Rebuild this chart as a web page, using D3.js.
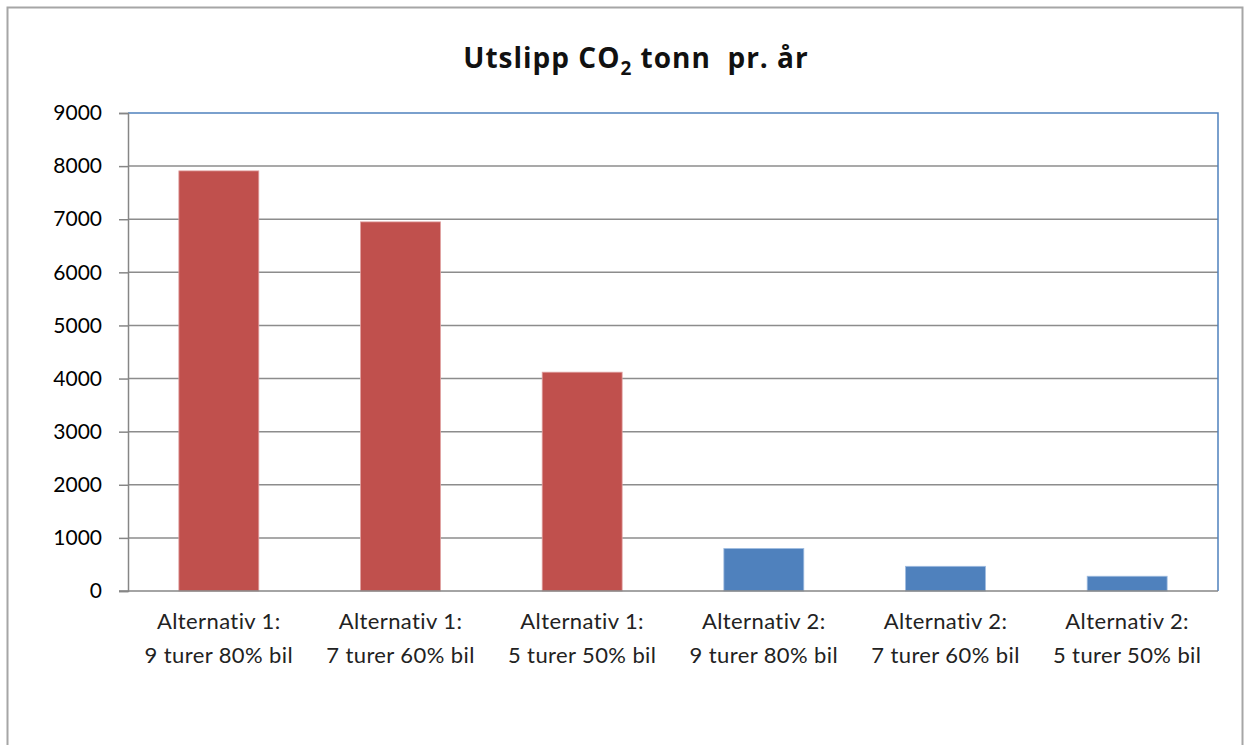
<!DOCTYPE html>
<html><head><meta charset="utf-8">
<script src="https://cdn.jsdelivr.net/npm/d3@7"></script>
<style>body{margin:0;background:#fff}svg{display:block}</style>
</head><body>
<svg id="c" width="1246" height="745"></svg>
<script>
const categoriesLine1 = ["Alternativ 1:", "Alternativ 1:", "Alternativ 1:", "Alternativ 2:", "Alternativ 2:", "Alternativ 2:"];
const categoriesLine2 = ["9 turer 80% bil", "7 turer 60% bil", "5 turer 50% bil", "9 turer 80% bil", "7 turer 60% bil", "5 turer 50% bil"];
const values = [7910, 6950, 4120, 800, 465, 278];
const groups = ["Alternativ 1", "Alternativ 1", "Alternativ 1", "Alternativ 2", "Alternativ 2", "Alternativ 2"];
const yTicks = [0, 1000, 2000, 3000, 4000, 5000, 6000, 7000, 8000, 9000];

const svg = d3.select("#c");
const font = "Lato, 'Open Sans', sans-serif";
const m = {left: 128, right: 1218, top: 113, bottom: 591};

// outer border
svg.append("rect").attr("x", 7.5).attr("y", 7.5).attr("width", 1235).attr("height", 760)
  .attr("fill", "#fff").attr("stroke", "#a6a6a6").attr("stroke-width", 2);

const x = d3.scaleBand().domain(d3.range(values.length)).range([m.left, m.right]).paddingInner(0.56).paddingOuter(0.28);
const y = d3.scaleLinear().domain([0, 9000]).range([m.bottom, m.top]);
const color = d3.scaleOrdinal().domain(["Alternativ 1", "Alternativ 2"]).range(["#c0504d", "#4f81bd"]);

// gridlines
svg.append("g").selectAll("line").data(yTicks.filter(d => d > 0 && d < 9000)).join("line")
  .attr("x1", m.left).attr("x2", m.right).attr("y1", d => y(d)).attr("y2", d => y(d))
  .attr("stroke", "#8c8c8c").attr("stroke-width", 1.5);

// plot border top/right (blue)
svg.append("path").attr("d", `M${m.left},${y(9000)}H${m.right}V${m.bottom}`)
  .attr("fill", "none").attr("stroke", "#4f81bd").attr("stroke-width", 1.5);

// bars
svg.append("g").selectAll("rect").data(values).join("rect")
  .attr("x", (d, i) => x(i)).attr("width", x.bandwidth())
  .attr("y", d => y(d)).attr("height", d => y(0) - y(d))
  .attr("fill", (d, i) => color(groups[i]))
  .attr("stroke", (d, i) => groups[i] === "Alternativ 1" ? "#e0a0a0" : "#9fbce0").attr("stroke-width", 0.8);

// y axis
const yAxis = d3.axisLeft(y).tickValues(yTicks).tickSize(9).tickPadding(17).tickFormat(d3.format("d"));
const ga = svg.append("g").attr("transform", `translate(${m.left},0)`).call(yAxis);
ga.select(".domain").attr("stroke", "#868686").attr("stroke-width", 1.5);
ga.selectAll(".tick line").attr("stroke", "#868686").attr("stroke-width", 1.5);
ga.selectAll(".tick text").attr("font-family", font).attr("font-size", 21).attr("fill", "#000");

// x axis
svg.append("line").attr("x1", m.left - 9).attr("x2", m.right).attr("y1", m.bottom).attr("y2", m.bottom)
  .attr("stroke", "#868686").attr("stroke-width", 1.5);

const xl = svg.append("g").selectAll("text").data(values).join("text")
  .attr("x", (d, i) => x(i) + x.bandwidth() / 2).attr("text-anchor", "middle")
  .attr("font-family", font).attr("font-size", 22).attr("letter-spacing", 0.4).attr("fill", "#222");
xl.append("tspan").attr("x", (d, i) => x(i) + x.bandwidth() / 2).attr("y", 629).text((d, i) => categoriesLine1[i]);
xl.append("tspan").attr("x", (d, i) => x(i) + x.bandwidth() / 2).attr("y", 663).text((d, i) => categoriesLine2[i]);

// title
const t = svg.append("text").attr("x", 636).attr("y", 68).attr("text-anchor", "middle")
  .attr("font-family", "'Open Sans', Lato, sans-serif").attr("font-weight", "bold").attr("font-size", 28)
  .attr("letter-spacing", 1).attr("fill", "#111");
t.append("tspan").text("Utslipp CO");
t.append("tspan").attr("font-size", 19).attr("dy", 7).text("2");
t.append("tspan").attr("dy", -7).text(" tonn\u00a0 pr. år");
</script>
</body></html>
